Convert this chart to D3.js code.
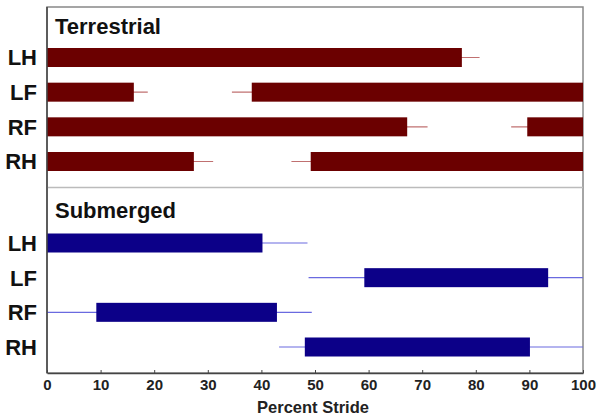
<!DOCTYPE html>
<head>
  <meta charset="utf-8">
  <script src="https://d3js.org/d3.v7.min.js"></script>
  <style>
    body { margin: 0; background: #fff; }
    text { font-family: "Liberation Sans", Arial, sans-serif; font-weight: bold; }
  </style>
</head>
<body>
  <script>
    // limbs, top to bottom within each panel
    var limbs = ["LH", "LF", "RF", "RH"];

    // stance phases: [whiskerStart, barStart, barEnd, whiskerEnd] in percent stride
    var terrestrial = [
      [[0, 0, 77.4, 80.7]],
      [[0, 0, 16.2, 18.8], [34.5, 38.2, 100, 100]],
      [[0, 0, 67.2, 71.0], [86.6, 89.6, 100, 100]],
      [[0, 0, 27.4, 31.0], [45.6, 49.2, 100, 100]]
    ];
    var submerged = [
      [[0, 0, 40.2, 48.6]],
      [[48.8, 59.2, 93.5, 100]],
      [[0, 9.2, 42.9, 49.4]],
      [[43.3, 48.1, 90.1, 100]]
    ];
    var xTicks = [0, 10, 20, 30, 40, 50, 60, 70, 80, 90, 100];

    var width = 598, height = 416;
    var plotLeft = 47, plotRight = 583, plotTop = 7, plotBottom = 373, split = 187.5;
    var barH = 19;

    var svg = d3.select("body").append("svg")
      .attr("width", width)
      .attr("height", height);

    var x = d3.scaleLinear().domain([0, 100]).range([plotLeft, plotRight]);

    // frame
    svg.append("rect")
      .attr("x", plotLeft).attr("y", plotTop)
      .attr("width", plotRight - plotLeft).attr("height", plotBottom - plotTop)
      .attr("fill", "none").attr("stroke", "#888").attr("stroke-width", 1.5);
    svg.append("line")
      .attr("x1", plotLeft).attr("x2", plotRight)
      .attr("y1", split).attr("y2", split)
      .attr("stroke", "#bbb").attr("stroke-width", 1.5);

    function panel(data, first, last, titleY, title, fill, whisker) {
      var y = d3.scalePoint().domain(limbs).range([first, last]);

      svg.append("text")
        .attr("x", 55).attr("y", titleY)
        .attr("font-size", 22)
        .attr("fill", "#111")
        .text(title);

      svg.selectAll(null).data(limbs).enter().append("text")
        .attr("x", 37)
        .attr("y", function(d) { return y(d); })
        .attr("dy", "0.36em")
        .attr("text-anchor", "end")
        .attr("font-size", 22)
        .attr("fill", "#111")
        .text(function(d) { return d; });

      limbs.forEach(function(limb, i) {
        var g = svg.append("g");
        var cy = y(limb);
        data[i].forEach(function(p) {
          g.append("line")
            .attr("x1", x(p[0])).attr("x2", x(p[3]))
            .attr("y1", cy).attr("y2", cy)
            .attr("stroke", whisker).attr("stroke-width", 1.2);
          g.append("rect")
            .attr("x", x(p[1])).attr("y", cy - barH / 2)
            .attr("width", x(p[2]) - x(p[1]))
            .attr("height", barH)
            .attr("fill", fill);
        });
      });
    }

    panel(terrestrial, 57.5, 161.5, 34, "Terrestrial", "#6b0000", "#c07070");
    panel(submerged, 243, 347, 218, "Submerged", "#0c0088", "#6a6ae0");

    // axes on top
    var xAxis = d3.axisBottom(x).tickValues(xTicks).tickSizeInner(-3).tickSizeOuter(0).tickPadding(6);
    var ax = svg.append("g")
      .attr("transform", "translate(0," + plotBottom + ")")
      .call(xAxis);
    ax.select(".domain").attr("stroke", "#444").attr("stroke-width", 1.5);
    ax.selectAll(".tick line").attr("stroke", "#444");
    ax.selectAll(".tick text")
      .attr("font-size", 15)
      .attr("font-family", "Liberation Sans, Arial, sans-serif")
      .attr("font-weight", "bold")
      .attr("fill", "#222");

    svg.append("line")
      .attr("x1", plotLeft).attr("x2", plotLeft)
      .attr("y1", plotTop).attr("y2", plotBottom)
      .attr("stroke", "#444").attr("stroke-width", 1.5);

    svg.append("text")
      .attr("x", 313).attr("y", 413)
      .attr("text-anchor", "middle")
      .attr("font-size", 16.5)
      .attr("fill", "#222")
      .text("Percent Stride");
  </script>
</body>
